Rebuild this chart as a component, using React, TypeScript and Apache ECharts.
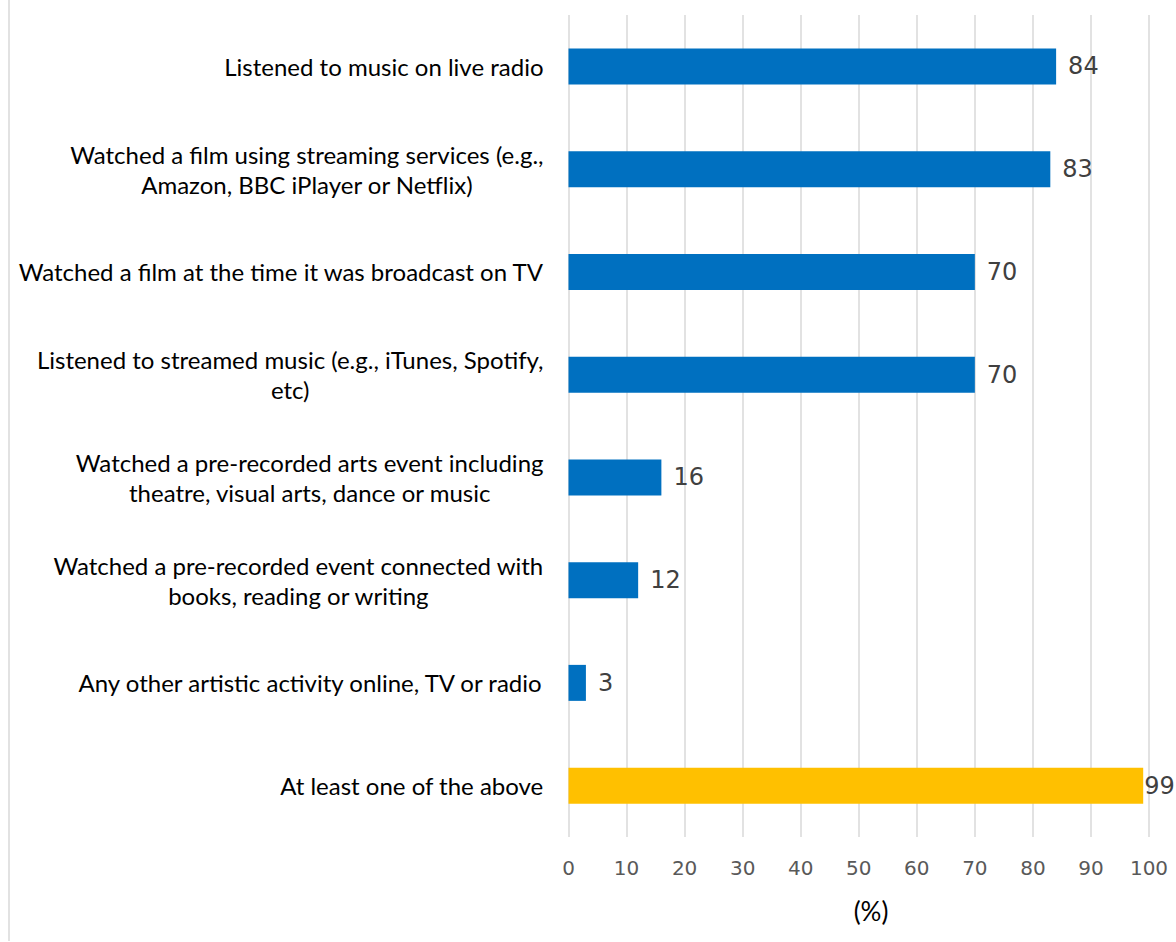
import React, { useEffect, useRef } from "react";
import * as echarts from "echarts";

const categories: string[] = [
  "Listened to music on live radio",
  "Watched a film using streaming services (e.g.,\nAmazon, BBC iPlayer or Netflix)",
  "Watched a film at the time it was broadcast on TV",
  "Listened to streamed music (e.g., iTunes, Spotify,\netc)",
  "Watched a pre-recorded arts event including\ntheatre, visual arts, dance or music",
  "Watched a pre-recorded event connected with\nbooks, reading or writing",
  "Any other artistic activity online, TV or radio",
  "At least one of the above",
];
const values: number[] = [84, 83, 70, 70, 16, 12, 3, 99];
const highlightIndex = 7;
const xTicks = { min: 0, max: 100, interval: 10 };
const axisTitle = "(%)";

export default function App() {
  const ref = useRef<HTMLDivElement>(null);
  useEffect(() => {
    if (!ref.current) return;
    const chart = echarts.init(ref.current, undefined, { renderer: "svg" });
    const data = values.map((v, i) => ({
      value: v,
      itemStyle: { color: i === highlightIndex ? "#FFC000" : "#0070C0" },
      label: i === highlightIndex ? { distance: 1 } : undefined,
    }));
    chart.setOption({
      animation: false,
      backgroundColor: "#ffffff",
      grid: { left: 568.5, right: 27, top: 15, bottom: 105, containLabel: false },
      xAxis: {
        type: "value",
        min: xTicks.min,
        max: xTicks.max,
        interval: xTicks.interval,
        axisLine: { show: false },
        axisTick: { show: false },
        splitLine: { show: true, lineStyle: { color: "#d9d9d9", width: 1.5 } },
        axisLabel: {
          color: "#595959",
          fontFamily: "DejaVu Sans",
          fontSize: 20,
          margin: 21,
        },
      },
      yAxis: {
        type: "category",
        inverse: true,
        data: categories,
        axisLine: { show: false },
        axisTick: { show: false },
        splitLine: { show: false },
        axisLabel: {
          margin: 25,
          align: "right",
          formatter: (v: string) =>
            v.split("\n").map((l) => `{c|${l}}`).join("\n"),
          rich: {
            c: {
              align: "center",
              fontFamily: "Lato",
              fontSize: 24,
              lineHeight: 30,
              color: "#000000",
            },
          },
        },
      },
      series: [
        {
          type: "bar",
          data,
          barWidth: 36,
          label: {
            show: true,
            position: "right",
            distance: 12,
            color: "#404040",
            fontFamily: "DejaVu Sans",
            fontSize: 24,
          },
        },
      ],
      graphic: [
        {
          type: "line",
          shape: { x1: 9, y1: 0, x2: 9, y2: 941 },
          style: { stroke: "#d9d9d9", lineWidth: 1.5 },
        },
        {
          type: "text",
          x: 871,
          y: 911,
          style: {
            text: axisTitle,
            fontFamily: "Lato",
            fontSize: 26,
            fill: "#000000",
            align: "center",
            verticalAlign: "middle",
          },
        },
      ],
    });
    return () => chart.dispose();
  }, []);
  return (
    <div
      ref={ref}
      style={{ position: "fixed", left: 0, top: 0, width: 1176, height: 942 }}
    />
  );
}
